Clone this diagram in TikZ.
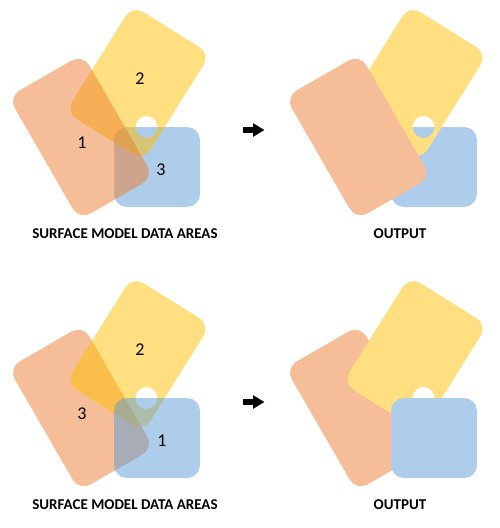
\documentclass[tikz,border=0pt]{standalone}
\usepackage{fontspec}
\setmainfont{Carlito}
\usetikzlibrary{arrows.meta}

\definecolor{areaOrange}{HTML}{ED7D31}
\definecolor{areaYellow}{HTML}{FFC000}
\definecolor{areaBlue}{HTML}{5B9BD5}

\tikzset{%
  >={Triangle[length=11.5pt,width=13pt]},
  % Specifications for style of the data areas:
          base/.style = {rounded corners=13pt},
    orangeArea/.style = {base, fill=areaOrange, fill opacity=0.5},
    yellowArea/.style = {base, fill=areaYellow, fill opacity=0.5, even odd rule},
      blueArea/.style = {base, fill=areaBlue, fill opacity=0.5},
     orangeOut/.style = {base, fill=areaOrange!50},
     yellowOut/.style = {base, fill=areaYellow!50, even odd rule},
       blueOut/.style = {base, fill=areaBlue!50},
        number/.style = {font=\fontsize{18}{18}\selectfont},
       caption/.style = {font=\bfseries\fontsize{15}{15}\selectfont},
}

\begin{document}
\begin{tikzpicture}[x=1pt, y=1pt]
  \useasboundingbox (0,0) rectangle (500,-528);

  % Top row: 1 orange, 2 yellow, 3 blue
  \fill[blueArea]   (114,-127) rectangle (200,-207);
  \fill[yellowArea, shift={(138,-83)}, rotate=-32]
        (-46,-63) rectangle (46,63) [sharp corners] (30.5,-32.8) circle[radius=11];
  \fill[orangeArea, shift={(81,-137)}, rotate=30] (-43,-71) rectangle (43,71);

  \node (numOrange) [number] at (82,-143)  {1};
  \node (numYellow) [number] at (140,-79)  {2};
  \node (numBlue)   [number] at (161,-170) {3};

  \begin{scope}[shift={(277,0)}]
    \fill[blueOut]   (114,-127) rectangle (200,-207);
    \fill[yellowOut, shift={(138,-83)}, rotate=-32]
          (-46,-63) rectangle (46,63) [sharp corners] (30.5,-32.8) circle[radius=11];
    \fill[orangeOut, shift={(81,-137)}, rotate=30] (-43,-71) rectangle (43,71);
  \end{scope}

  % Bottom row: 1 blue, 2 yellow, 3 orange
  \begin{scope}[shift={(0,-271)}]
    \fill[orangeArea, shift={(81,-137)}, rotate=30] (-43,-71) rectangle (43,71);
    \fill[yellowArea, shift={(138,-83)}, rotate=-32]
          (-46,-63) rectangle (46,63) [sharp corners] (30.5,-32.8) circle[radius=11];
    \fill[blueArea]   (114,-127) rectangle (200,-207);
  \end{scope}

  \node (numOrangeB) [number] at (82,-414)  {3};
  \node (numYellowB) [number] at (140,-350) {2};
  \node (numBlueB)   [number] at (162,-441) {1};

  \begin{scope}[shift={(277,-271)}]
    \fill[orangeOut, shift={(81,-137)}, rotate=30] (-43,-71) rectangle (43,71);
    \fill[yellowOut, shift={(138,-83)}, rotate=-32]
          (-46,-63) rectangle (46,63) [sharp corners] (30.5,-32.8) circle[radius=11];
    \fill[blueOut]   (114,-127) rectangle (200,-207);
  \end{scope}

  % Captions
  \node (captionTop)    [caption] at (125,-234) {SURFACE MODEL DATA AREAS};
  \node (outputTop)     [caption] at (400,-234) {OUTPUT};
  \node (captionBottom) [caption] at (125,-505) {SURFACE MODEL DATA AREAS};
  \node (outputBottom)  [caption] at (400,-505) {OUTPUT};

  % Arrows between the panels
  \coordinate (arrowTopStart)    at (243,-130);
  \coordinate (arrowTopEnd)      at (264.5,-130);
  \coordinate (arrowBottomStart) at (243,-402);
  \coordinate (arrowBottomEnd)   at (264.5,-402);
  \draw[->, line width=6.5pt] (arrowTopStart) -- (arrowTopEnd);
  \draw[->, line width=6.5pt] (arrowBottomStart) -- (arrowBottomEnd);
\end{tikzpicture}
\end{document}
